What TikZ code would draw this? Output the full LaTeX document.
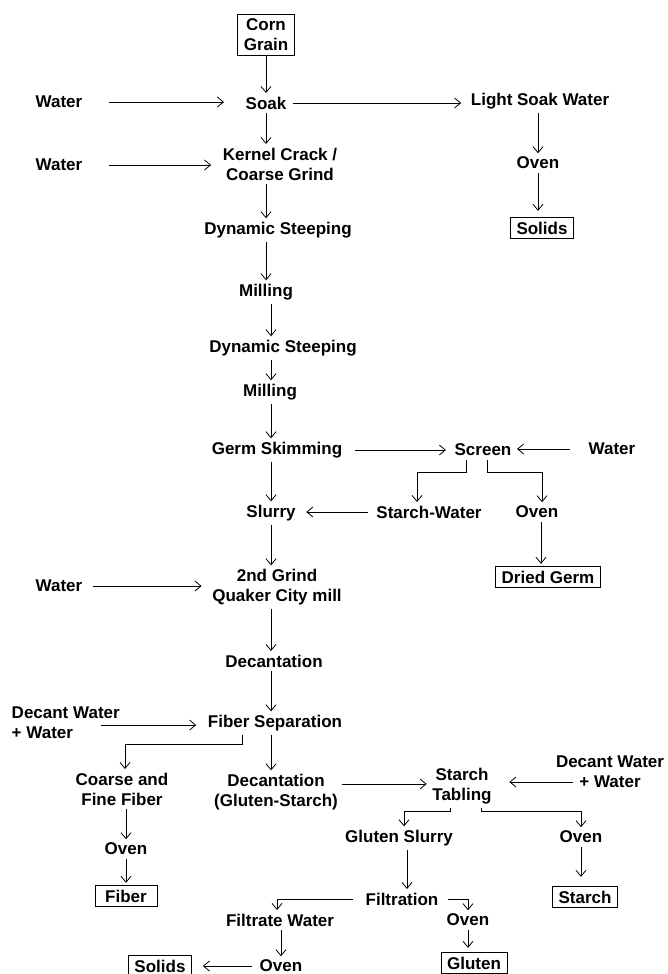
\documentclass[tikz,border=0pt]{standalone}
\usepackage{fontspec}
\setmainfont{Liberation Sans}
\usetikzlibrary{arrows.meta,positioning,calc}

\begin{document}
\begin{tikzpicture}[x=1pt,y=-1pt,line width=0.8pt,
  font=\fontsize{17}{20}\selectfont\bfseries,
  every node/.style={align=center},
  box/.style={draw,inner xsep=6pt,inner ysep=4.5pt},
  arr/.style={-{Straight Barb[length=6pt,width=10pt]}}]
  \useasboundingbox (0,0) rectangle (667,974);
  % main line
  \node[box] (corn) at (266,35) {Corn\\Grain};
  \node (soak) at (266,103) {Soak};
  \node (kernel) at (280,164) {Kernel Crack /\\Coarse Grind};
  \node (dyn1) at (278,230) {Dynamic Steeping};
  \node (mill1) at (266,292) {Milling};
  \node (dyn2) at (283,348) {Dynamic Steeping};
  \node (mill2) at (270,392) {Milling};
  \node (germ) at (277,450) {Germ Skimming};
  \node (slurry) at (271,513) {Slurry};
  \node (grind) at (277,587) {2nd Grind\\Quaker City mill};
  \node (dec1) at (274,661) {Decantation};
  \node (fsep) at (275,723) {Fiber Separation};
  \node (dec2) at (276,792) {Decantation\\(Gluten-Starch)};
  % water inputs
  \node (w1) at (59,102) {Water};
  \node (w2) at (59,165) {Water};
  \node (w3) at (612,449) {Water};
  \node (w4) at (59,586) {Water};
  \node[align=left,anchor=west] (dw1) at (8,723) {Decant Water\\+ Water};
  \node (dw2) at (610,772) {Decant Water\\+ Water};
  \coordinate (dw1out) at (101,725);
  \coordinate (dw2out) at (573,782);
  % side streams
  \node (light) at (540,101) {Light Soak Water};
  \node (oven1) at (538,163) {Oven};
  \node[box] (sol1) at (542,228) {Solids};
  \node (screen) at (483,450) {Screen};
  \node (sw) at (429,512) {Starch-Water};
  \node (oven2) at (537,512) {Oven};
  \node[box] (germbox) at (548,577) {Dried Germ};
  \node (coarse) at (122,789) {Coarse and\\Fine Fiber};
  \node (oven3) at (126,849) {Oven};
  \node[box,minimum width=62pt] (fiber) at (126,896) {Fiber};
  \node (tab) at (462,786) {Starch\\Tabling};
  \node (gsl) at (399,838) {Gluten Slurry};
  \node (oven4) at (581,837) {Oven};
  \node[box] (starch) at (585,897) {Starch};
  \node (filt) at (402,899) {Filtration};
  \node (fw) at (280,920) {Filtrate Water};
  \node (oven5) at (468,920) {Oven};
  \node[box] (gluten) at (474,963) {Gluten};
  \node (oven6) at (281,966) {Oven};
  \node[box] (sol2) at (160,966) {Solids};
  % top part
  \draw[arr] (corn) -- (soak);
  \draw[arr,shorten <=23pt,shorten >=18pt] (w1.east) -- (w1.east -| soak.west);
  \draw[arr,shorten <=3pt,shorten >=6pt] (soak.east) -- (soak.east -| light.west);
  \draw[arr] (light.south -| oven1) -- (oven1);
  \draw[arr,shorten >=6pt] (oven1.south) -- (oven1.south |- sol1.north);
  \draw[arr] (soak.south) -- (soak.south |- kernel.north);
  \draw[arr,shorten <=23pt,shorten >=8pt] (w2.east) -- (w2.east -| kernel.west);
  \draw[arr] (kernel.south -| soak) -- (dyn1.north -| soak);
  \draw[arr] (dyn1.south -| soak) -- (mill1.north -| soak);
  \draw[arr] (mill1.south -| slurry) -- (dyn2.north -| slurry);
  \draw[arr] (dyn2.south -| slurry) -- (mill2.north -| slurry);
  \draw[arr] (mill2.south -| slurry) -- (germ.north -| slurry);
  % germ and screen
  \draw[arr,shorten <=9pt,shorten >=5pt] (germ.east) -- (germ.east -| screen.west);
  \draw[arr,shorten <=15pt,shorten >=2pt] (w3.west) -- (w3.west -| screen.east);
  \draw[arr] ([xshift=-17pt]screen.south) -- ++(0,13) -| ([xshift=-12pt]sw.north);
  \draw[arr] ([xshift=4pt]screen.south) -- ++(0,13) -| ([xshift=5pt]oven2.north);
  \draw[arr,shorten <=5pt,shorten >=7pt] (sw.west) -- (sw.west -| slurry.east);
  \draw[arr] (germ.south -| slurry) -- (slurry);
  \draw[arr,shorten >=2pt] ([xshift=4pt]oven2.south) -- ([xshift=4pt]oven2.south |- germbox.north);
  % second grind
  \draw[arr] (slurry) -- (slurry |- grind.north);
  \draw[arr,shorten <=7pt,shorten >=7pt] (w4.east) -- (w4.east -| grind.west);
  \draw[arr] (grind.south -| slurry) -- (dec1.north -| slurry);
  \draw[arr] (dec1.south -| slurry) -- (fsep.north -| slurry);
  \draw[arr,shorten >=8pt] (dw1out) -- (dw1out -| fsep.west);
  % fiber
  \draw[arr] ([xshift=-33pt]fsep.south) -- ++(0,10) -| ([xshift=3pt]coarse.north);
  \draw[arr] (coarse.south -| oven3) -- (oven3);
  \draw[arr,shorten >=2pt] (oven3) -- (fiber);
  \draw[arr] (fsep.south -| slurry) -- (dec2.north -| slurry);
  % starch tabling
  \draw[arr,shorten >=2pt] ([yshift=8pt]dec2.east) -- ([yshift=8pt]dec2.east -| tab.west);
  \draw[arr,shorten >=14pt] (dw2out) -- (dw2out -| tab.east);
  \draw[arr] ([xshift=-12pt]tab.south) -- ++(0,4) -| ([xshift=5pt]gsl.north);
  \draw[arr] ([xshift=19pt]tab.south) -- ++(0,4) -| (oven4.north);
  \draw[arr,shorten >=9pt] (oven4) -- (oven4 |- starch.north);
  \draw[arr] ([xshift=8pt]gsl.south) -- ([xshift=8pt]gsl.south |- filt.north);
  % filtration
  \draw[arr] ([xshift=-9pt]filt.west) -| ([xshift=-3pt]fw.north);
  \draw[arr] ([xshift=6pt]filt.east) -| (oven5.north);
  \draw[arr,shorten >=4pt] (oven5) -- (oven5 |- gluten.north);
  \draw[arr] (fw.south -| oven6) -- (oven6);
  \draw[arr,shorten <=4pt,shorten >=11pt] (oven6.west) -- (oven6.west -| sol2.east);
\end{tikzpicture}
\end{document}
